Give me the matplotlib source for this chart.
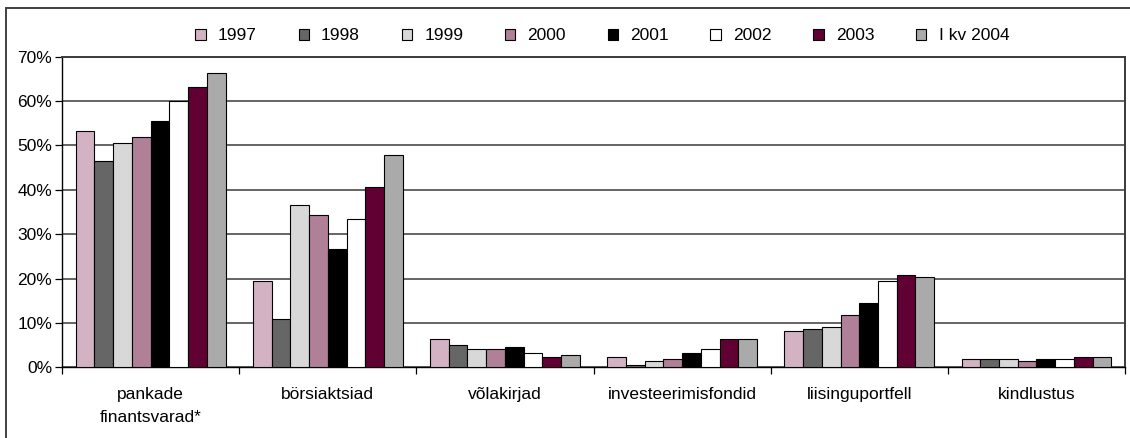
import numpy as np
import matplotlib.pyplot as plt
from matplotlib.patches import Rectangle

plt.rcParams['font.family'] = ['Liberation Sans', 'DejaVu Sans']

categories = ['pankade\nfinantsvarad*', 'börsiaktsiad', 'võlakirjad',
              'investeerimisfondid', 'liisinguportfell', 'kindlustus']
series = ['1997', '1998', '1999', '2000', '2001', '2002', '2003', 'I kv 2004']
colors = ['#d3b2c4', '#666666', '#d8d8d8', '#b08098', '#000000', '#ffffff',
          '#600033', '#aaaaaa']

# values in % per series, order follows categories
v1997 = [53.3, 19.4, 6.3, 2.3, 8.2, 1.9]
v1998 = [46.4, 10.8, 5.0, 0.5, 8.6, 1.9]
v1999 = [50.5, 36.6, 4.1, 1.4, 9.1, 1.9]
v2000 = [51.9, 34.3, 4.1, 1.8, 11.9, 1.5]
v2001 = [55.6, 26.7, 4.6, 3.3, 14.5, 1.9]
v2002 = [60.0, 33.4, 3.2, 4.1, 19.5, 1.9]
v2003 = [63.1, 40.6, 2.3, 6.3, 20.8, 2.3]
v2004 = [66.3, 47.8, 2.7, 6.3, 20.4, 2.3]
values = [v1997, v1998, v1999, v2000, v2001, v2002, v2003, v2004]

fig = plt.figure(figsize=(11.3, 4.38), dpi=100)
ax = fig.add_axes([0.0549, 0.1614, 0.9407, 0.7091])

n = len(series)
group = 0.846
w = group / n
x = np.arange(len(categories))
handles = []
for i, (lab, vals) in enumerate(zip(series, values)):
    b = ax.bar(x - group / 2 + w * (i + 0.5), vals, width=w, color=colors[i],
               edgecolor='black', linewidth=0.8, label=lab, zorder=3)
    handles.append(b)

ax.set_xlim(-0.5, len(categories) - 0.5)
ax.set_ylim(0, 70)
ax.set_yticks(range(0, 71, 10))
ax.set_yticklabels([f'{t}%' for t in range(0, 71, 10)], fontsize=12.5)
ax.yaxis.grid(True, color='#3a3a3a', linewidth=1.1, zorder=0)
ax.set_axisbelow(True)

ax.set_xticks(x)
ax.set_xticklabels(categories, fontsize=12.5, linespacing=1.7)
ax.set_xticks(np.arange(len(categories) + 1) - 0.5, minor=True)
ax.tick_params(axis='x', which='major', length=0, pad=14)
ax.tick_params(axis='x', which='minor', length=5, width=0.9, direction='out')
ax.tick_params(axis='y', length=5, width=0.9, direction='out', pad=2)

for s in ['left', 'bottom']:
    ax.spines[s].set_color('black')
    ax.spines[s].set_linewidth(1.0)
for s in ['top', 'right']:
    ax.spines[s].set_color('#3a3a3a')
    ax.spines[s].set_linewidth(1.4)

fig.legend(handles=handles, labels=series, loc='center', ncol=n,
           bbox_to_anchor=(0.533, 0.918), frameon=False, fontsize=12.5,
           handlelength=0.6, handleheight=0.6, handletextpad=0.7,
           columnspacing=2.4)

# outer chart frame, cut off at right and bottom
fig.patches.append(Rectangle((6 / 1130, -0.1), 1.2, 1.1 - 8 / 438,
                             transform=fig.transFigure, fill=False,
                             edgecolor='#404040', linewidth=1.4))

fig.savefig('out.png', dpi=100)
